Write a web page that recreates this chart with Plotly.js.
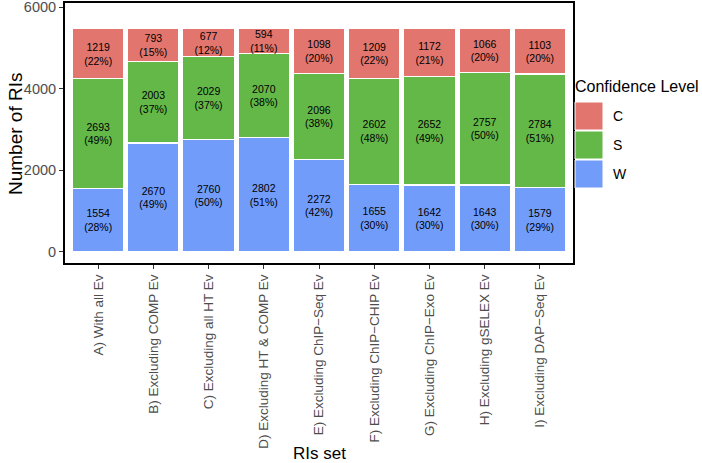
<!DOCTYPE html>
<html>
<head>
<meta charset="utf-8">
<script src="https://cdn.plot.ly/plotly-3.0.1.min.js"></script>
<style>html,body{margin:0;padding:0;background:#fff;}#chart{width:702px;height:463px;}</style>
</head>
<body>
<div id="chart"></div>
<script>
const categories = ["A) With all Ev","B) Excluding COMP Ev","C) Excluding all HT Ev","D) Excluding HT & COMP Ev","E) Excluding ChIP\u2212Seq Ev","F) Excluding ChIP\u2212CHIP Ev","G) Excluding ChIP\u2212Exo Ev","H) Excluding gSELEX Ev","I) Excluding DAP\u2212Seq Ev"];
const W = [1554,2670,2760,2802,2272,1655,1642,1643,1579];
const S = [2693,2003,2029,2070,2096,2602,2652,2757,2784];
const C = [1219,793,677,594,1098,1209,1172,1066,1103];
const Wpct = [28,49,50,51,42,30,30,30,29];
const Spct = [49,37,37,38,38,48,49,50,51];
const Cpct = [22,15,12,11,20,22,21,20,20];
const yTicks = [0,2000,4000,6000];
const colors = {W:"#729CFA", S:"#64B848", C:"#E2766E"};

const FONT = "Liberation Sans, Arial, sans-serif";
function mk(name, vals, pct){
  return {
    type:"bar", name:name, x:categories, y:vals,
    text: vals.map((v,i)=> v + "<br>(" + pct[i] + "%)"),
    textposition:"inside", insidetextanchor:"middle", textangle:0,
    textfont:{family:FONT, size:10.5, color:"#000"},
    marker:{color:colors[name], line:{color:"#fff", width:1.2}},
    width:0.93, hoverinfo:"x+y", showlegend:false
  };
}
const data = [mk("W",W,Wpct), mk("S",S,Spct), mk("C",C,Cpct)];

const L=65, R=129, T=3, B=200, Wd=702, Ht=463;
const pw = Wd-L-R, ph = Ht-T-B;
const px = x => (x-L)/pw, py = y => 1-(y-T)/ph;
const shapes = [], annotations = [];
["C","S","W"].forEach((n,i)=>{
  const y0 = 102 + i*29;
  shapes.push({type:"rect", xref:"paper", yref:"paper", x0:px(575), x1:px(603), y0:py(y0+28), y1:py(y0), fillcolor:colors[n], line:{color:"#fff", width:1}});
  annotations.push({xref:"paper", yref:"paper", x:px(611), y:py(y0+14), text:n, showarrow:false, xanchor:"left", yanchor:"middle", font:{family:FONT, size:14, color:"#000"}});
});
annotations.push({xref:"paper", yref:"paper", x:px(573), y:py(87), text:"Confidence Level", showarrow:false, xanchor:"left", yanchor:"middle", font:{family:FONT, size:16, color:"#000"}});
annotations.push({xref:"paper", yref:"paper", x:0.5, y:py(453), text:"RIs set", showarrow:false, xanchor:"center", yanchor:"middle", font:{family:FONT, size:17, color:"#000"}});
annotations.push({xref:"paper", yref:"paper", x:px(15), y:py(134), text:"Number of RIs", textangle:-90, showarrow:false, xanchor:"center", yanchor:"middle", font:{family:FONT, size:19, color:"#000"}});

const layout = {
  width:Wd, height:Ht,
  margin:{l:L, r:R, t:T, b:B, pad:0},
  barmode:"stack", bargap:0.07,
  paper_bgcolor:"#fff", plot_bgcolor:"#fff",
  showlegend:false,
  uniformtext:{mode:"show", minsize:10.5},
  font:{family:FONT},
  xaxis:{
    range:[-0.6, 8.6], tickangle:-90, showgrid:false, zeroline:false, automargin:false,
    showline:true, mirror:true, linecolor:"#000", linewidth:2,
    ticks:"outside", ticklen:4, tickcolor:"#333", tickwidth:1,
    tickfont:{family:FONT, size:13.5, color:"#4D4D4D"}
  },
  yaxis:{
    range:[-270, 6100], tickvals:yTicks, showgrid:false, zeroline:false, automargin:false,
    ticklabeloverflow:"allow",
    showline:true, mirror:true, linecolor:"#000", linewidth:2,
    ticks:"outside", ticklen:4, tickcolor:"#333", tickwidth:1,
    tickfont:{family:FONT, size:14.5, color:"#4D4D4D"}
  },
  shapes:shapes, annotations:annotations
};
Plotly.newPlot("chart", data, layout, {displayModeBar:false, staticPlot:true});
</script>
</body>
</html>
